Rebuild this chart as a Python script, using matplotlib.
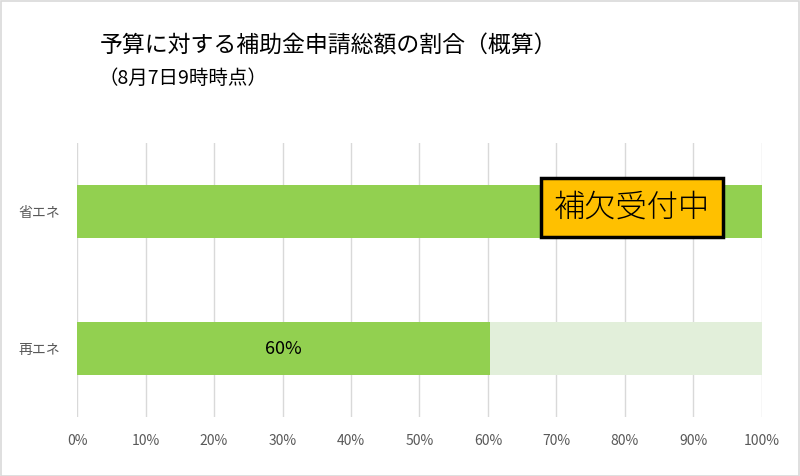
import numpy as np
import matplotlib.pyplot as plt
from matplotlib.patches import Rectangle

plt.rcParams['font.family'] = ['Noto Sans CJK JP', 'DejaVu Sans']

# データ
categories = ["再エネ", "省エネ"]
rates = [60.3, 100]          # 予算に対する申請額の割合(%)
show_label = [True, False]
xticks = [0, 10, 20, 30, 40, 50, 60, 70, 80, 90, 100]
note_text = "補欠受付中"

fig = plt.figure(figsize=(8, 4.76), dpi=100)
ax = fig.add_axes([0.09625, 0.1239, 0.85625, 0.5757])

y = np.arange(len(categories))
rest = [100 - r for r in rates]
ax.barh(y, rates, height=0.39, color="#92D050", zorder=3)
ax.barh(y, rest, left=rates, height=0.39, color="#E2EFDA", zorder=3)

for i in range(len(categories)):
    if show_label[i]:
        ax.text(rates[i] / 2, y[i], f"{rates[i]:.0f}%", ha="center", va="center",
                fontsize=13, color="black", zorder=4)

# 補欠受付中
ax.text(81, 1.03, note_text, ha="center", va="center", fontsize=22.5, color="black", zorder=5,
        fontweight="light",
        bbox=dict(boxstyle="square,pad=0.42", facecolor="#FFC000", edgecolor="black", linewidth=2.5))

ax.set_xlim(0, 100)
ax.set_ylim(-0.5, 1.5)
ax.set_xticks(xticks, labels=[f"{t}%" for t in xticks])
ax.set_yticks(y, labels=categories)
ax.tick_params(axis="both", length=0, labelsize=10, labelcolor="#595959")
ax.tick_params(axis="x", pad=12)
ax.tick_params(axis="y", pad=12)
ax.grid(axis="x", color="#D9D9D9", linewidth=1, zorder=0)
for s in ax.spines.values():
    s.set_visible(False)

fig.text(0.125, 0.903, "予算に対する補助金申請総額の割合（概算）", fontsize=16.5, va="center", ha="left")
fig.text(0.123, 0.836, "（8月7日9時時点）", fontsize=14, va="center", ha="left")

# 外枠
fig.patches.append(Rectangle((0.001, 0.001), 0.998, 0.997, transform=fig.transFigure,
                             fill=False, edgecolor="#D9D9D9", linewidth=1.2))

fig.savefig("out.png", dpi=100)
